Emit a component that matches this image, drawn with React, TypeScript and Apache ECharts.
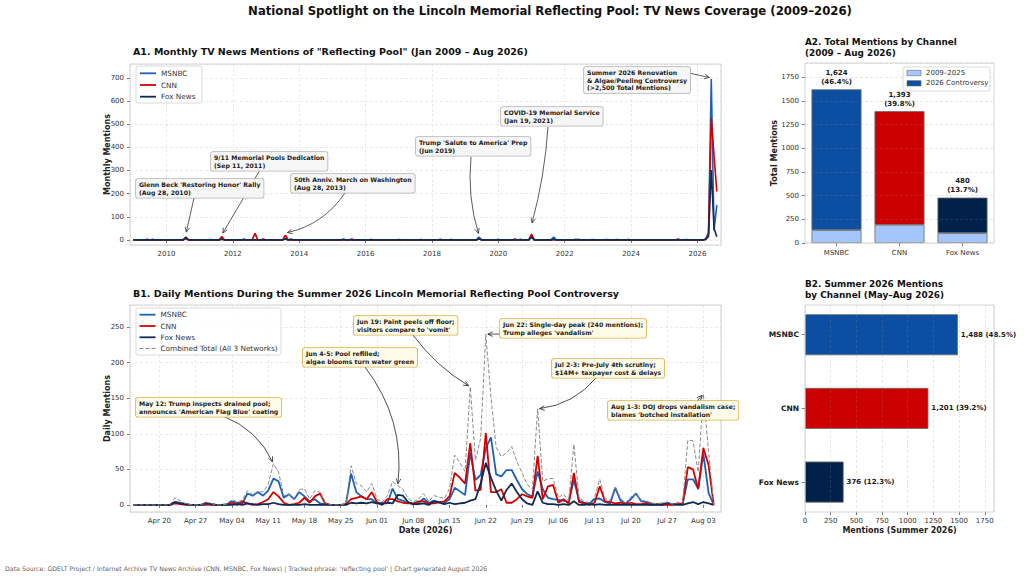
import React, { useEffect, useRef } from "react";
import * as echarts from "echarts";

// ============================ DATA ============================
const channels = ["MSNBC", "CNN", "Fox News"];

// A1 – monthly mentions (Jan 2009 – Aug 2026); months not listed were 0
const monthlyFirst = "2009-01";
const monthlyLast = "2026-08";
const msnbcMonthly: [string, number][] = [
  ["2009-08", 3], ["2010-08", 8], ["2011-05", 2], ["2011-09", 5], ["2012-05", 4],
  ["2013-08", 6], ["2015-05", 2], ["2017-01", 2], ["2019-06", 12], ["2020-01", 3],
  ["2021-01", 15], ["2021-09", 12], ["2022-06", 3], ["2022-11", 2], ["2023-04", 2],
  ["2023-08", 2], ["2025-09", 2], ["2026-04", 5], ["2026-05", 30], ["2026-06", 695],
  ["2026-07", 40], ["2026-08", 151],
];
const cnnMonthly: [string, number][] = [
  ["2009-06", 3], ["2010-08", 5], ["2011-09", 15], ["2012-09", 28], ["2012-12", 4],
  ["2013-08", 20], ["2015-08", 4], ["2016-03", 2], ["2017-09", 2], ["2018-04", 3],
  ["2018-08", 2], ["2019-06", 5], ["2020-07", 4], ["2020-09", 3], ["2021-01", 25],
  ["2022-05", 3], ["2023-12", 2], ["2025-06", 4], ["2026-04", 3], ["2026-05", 25],
  ["2026-06", 526], ["2026-07", 365], ["2026-08", 209],
];
const foxMonthly: [string, number][] = [
  ["2010-08", 12], ["2011-09", 3], ["2013-08", 4], ["2013-10", 4], ["2015-05", 3],
  ["2019-06", 4], ["2021-01", 12], ["2021-09", 4], ["2024-03", 1], ["2026-04", 2],
  ["2026-05", 15], ["2026-06", 302], ["2026-07", 50], ["2026-08", 14],
];

// A2 – total mentions by channel
const mentions2009to2025 = [136, 192, 104];
const mentions2026 = [1488, 1201, 376];

// B1 – daily mentions, from 2026-04-15 to 2026-08-05
const dailyStart = "2026-04-15";
const msnbcDaily = [
  0, 0, 0, 0, 0, 0, 0, 0, 4, 3,
  1, 0, 0, 0, 0, 1, 0, 0, 1, 5,
  3, 2, 16, 13, 18, 13, 20, 37, 33, 10,
  15, 8, 18, 12, 5, 8, 2, 1, 0, 0,
  0, 1, 44, 18, 12, 8, 8, 2, 3, 2,
  23, 8, 6, 3, 1, 2, 9, 3, 6, 4,
  3, 8, 24, 19, 14, 73, 35, 42, 80, 95,
  43, 40, 49, 49, 35, 22, 15, 12, 47, 22,
  10, 8, 7, 6, 4, 35, 6, 3, 2, 8,
  9, 4, 2, 24, 6, 2, 8, 16, 5, 4,
  2, 1, 2, 1, 0, 2, 1, 36, 36, 23,
  72, 17, 0,
];
const cnnDaily = [
  0, 0, 0, 0, 0, 0, 0, 0, 2, 1,
  0, 0, 0, 0, 1, 0, 0, 0, 0, 3,
  0, 5, 2, 0, 1, 4, 8, 18, 12, 3,
  0, 1, 3, 10, 3, 12, 16, 2, 0, 0,
  0, 1, 8, 10, 12, 8, 18, 4, 0, 8,
  8, 5, 3, 2, 2, 5, 5, 2, 2, 4,
  5, 12, 45, 38, 30, 87, 20, 21, 101, 18,
  18, 22, 3, 3, 8, 15, 12, 10, 69, 8,
  26, 28, 3, 8, 2, 45, 4, 2, 0, 3,
  26, 5, 4, 2, 3, 1, 3, 1, 1, 2,
  0, 1, 0, 0, 0, 1, 2, 53, 50, 22,
  80, 56, 0,
];
const foxDaily = [
  0, 0, 0, 0, 0, 0, 0, 0, 4, 2,
  1, 0, 0, 0, 3, 1, 0, 0, 0, 0,
  1, 0, 2, 1, 0, 1, 1, 3, 1, 0,
  0, 0, 0, 1, 0, 0, 0, 0, 0, 0,
  0, 0, 3, 2, 3, 2, 4, 2, 1, 3,
  2, 14, 13, 4, 1, 1, 2, 0, 5, 3,
  1, 3, 1, 2, 3, 6, 8, 30, 59, 38,
  20, 6, 21, 30, 18, 8, 2, 0, 19, 3,
  1, 1, 0, 1, 0, 5, 0, 0, 1, 0,
  1, 0, 0, 0, 0, 0, 0, 0, 0, 0,
  0, 0, 0, 3, 1, 0, 0, 2, 4, 1,
  4, 2, 0,
];

// B2 – summer 2026 mentions by channel
const summerMentions = [1488, 1201, 376];

// Annotations: text, target (month / date) and target value
const a1Notes: [string, string, number][] = [
  ["Glenn Beck 'Restoring Honor' Rally\n(Aug 28, 2010)", "2010-08", 25],
  ["9/11 Memorial Pools Dedication\n(Sep 11, 2011)", "2011-09", 22],
  ["50th Anniv. March on Washington\n(Aug 28, 2013)", "2013-08", 30],
  ["Trump 'Salute to America' Prep\n(Jun 2019)", "2019-06", 20],
  ["COVID-19 Memorial Service\n(Jan 19, 2021)", "2021-01", 65],
  ["Summer 2026 Renovation\n& Algae/Peeling Controversy\n(>2,500 Total Mentions)", "2026-06", 700],
];
const b1Notes: [string, string][] = [
  ["May 12: Trump inspects drained pool;\nannounces 'American Flag Blue' coating", "2026-05-12"],
  ["Jun 4-5: Pool refilled;\nalgae blooms turn water green", "2026-06-05"],
  ["Jun 19: Paint peels off floor;\nvisitors compare to 'vomit'", "2026-06-19"],
  ["Jun 22: Single-day peak (240 mentions);\nTrump alleges 'vandalism'", "2026-06-22"],
  ["Jul 2-3: Pre-July 4th scrutiny;\n$14M+ taxpayer cost & delays", "2026-07-02"],
  ["Aug 1-3: DOJ drops vandalism case;\nblames 'botched installation'", "2026-08-03"],
];

// ============================ LAYOUT / STYLE ============================
const FONT = "'DejaVu Sans', Verdana, sans-serif";
const LINE_COLORS = ["#1a62b5", "#d40000", "#0f2b52"];
const BAR_COLORS = ["#0b4ea2", "#cc0000", "#00214a"];
const LIGHT_BLUE = "#a4c6fc";

const GA1 = { left: 130, top: 64, width: 591, height: 181 };
const GB1 = { left: 130, top: 305, width: 591, height: 207 };
const GA2 = { left: 805, top: 63, width: 189, height: 180 };
const GB2 = { left: 805, top: 305, width: 189, height: 207 };
const GB2BARS = { left: 805, top: 297.9, width: 189, height: 221 };

// annotation box positions (top-left) and arrow tails
const a1Boxes = [
  { box: [136, 179], from: [194, 198], rad: 0 },
  { box: [211, 152], from: [260, 170], rad: 0 },
  { box: [291, 174], from: [345, 193], rad: 0.2 },
  { box: [416, 137], from: [471, 157], rad: -0.1 },
  { box: [501, 107], from: [548, 127], rad: 0.05 },
  { box: [584, 67], from: [689, 73], rad: 0 },
];
const b1Boxes = [
  { box: [136, 398], from: [223, 416], rad: 0.2 },
  { box: [303, 348], from: [365, 367], rad: 0.2 },
  { box: [354, 316], from: [413, 335], rad: -0.1 },
  { box: [500, 319], from: [500, 334], rad: 0 },
  { box: [552, 359], from: [597, 377], rad: 0.2 },
  { box: [608, 401], from: [697, 401], rad: 0 },
];

// ============================ HELPERS ============================
const DAY = 86400000;
const MONTHS = ["Jan", "Feb", "Mar", "Apr", "May", "Jun", "Jul", "Aug", "Sep", "Oct", "Nov", "Dec"];

function monthX(s: string) {
  const [y, m] = s.split("-").map(Number);
  return y + (m - 1) / 12;
}
function monthIdx(s: string) {
  const [y, m] = s.split("-").map(Number);
  return y * 12 + (m - 1);
}
function buildMonthly(spikes: [string, number][]) {
  const first = monthIdx(monthlyFirst);
  const n = monthIdx(monthlyLast) - first + 1;
  const vals = new Array(n).fill(0);
  spikes.forEach(([k, v]) => (vals[monthIdx(k) - first] = v));
  return vals.map((v, i) => [monthX(monthlyFirst) + i / 12, v]);
}

const startMs = Date.parse(dailyStart + "T00:00:00Z");
const mondayOffset = (new Date(startMs).getUTCDay() + 6) % 7; // days since previous Monday
const refMs = startMs - mondayOffset * DAY;
const dayX = (i: number) => mondayOffset + i;
const dateX = (s: string) => Math.round((Date.parse(s + "T00:00:00Z") - refMs) / DAY);
function dayLabel(v: number) {
  const d = new Date(refMs + Math.round(v) * DAY);
  return MONTHS[d.getUTCMonth()] + " " + String(d.getUTCDate()).padStart(2, "0");
}
const combinedDaily = msnbcDaily.map((v, i) => v + cnnDaily[i] + foxDaily[i]);

const plain = (v: number) => String(Math.round(v));
const tickLabel = { fontFamily: FONT, fontSize: 7, color: "#333" };
const axisTick = { show: true, length: 3, lineStyle: { color: "#555", width: 0.8 } };
const splitLine = { show: true, lineStyle: { color: "#dedede", width: 0.6, type: [3, 2] } };
const splitLineOver = { show: true, lineStyle: { color: "rgba(150,150,150,0.35)", width: 0.6, type: [3, 2] } };
const axisName = { fontFamily: FONT, fontSize: 8, fontWeight: "bold", color: "#222" };

function lineSeries(name: string, data: any[], color: string, width: number, idx: number, dashed = false) {
  return {
    type: "line", name, xAxisIndex: idx, yAxisIndex: idx, data,
    showSymbol: false, symbol: "none", silent: true,
    lineStyle: { color, width, type: dashed ? [4, 2] : "solid" },
    itemStyle: { color },
  };
}

function buildOption() {
  const fmtN = (v: number) => v.toLocaleString("en-US");
  const totals = mentions2009to2025.map((v, i) => v + mentions2026[i]);
  const allTotal = totals.reduce((a, b) => a + b, 0);
  const summerTotal = summerMentions.reduce((a, b) => a + b, 0);
  const grid = (g: any) => ({ ...g, containLabel: false, outerBoundsMode: "none" });

  return {
    animation: false,
    backgroundColor: "#ffffff",
    textStyle: { fontFamily: FONT },
    grid: [grid(GA1), grid(GB1), grid(GA2), grid(GB2BARS), grid(GB2)],
    xAxis: [
      {
        gridIndex: 0, type: "value", min: 2008.9, max: 2026.71, splitNumber: 9,
        minInterval: 2, maxInterval: 2,
        axisLine: { show: false }, axisTick, splitLine,
        axisLabel: { ...tickLabel, margin: 5, showMinLabel: false, showMaxLabel: false, formatter: plain },
      },
      {
        gridIndex: 1, type: "value", min: dayX(0) - 0.68, max: dayX(msnbcDaily.length - 1) + 1.4,
        splitNumber: 16, minInterval: 7, maxInterval: 7,
        axisLine: { show: false }, axisTick, splitLine,
        axisLabel: { ...tickLabel, margin: 5, showMinLabel: false, showMaxLabel: false, formatter: dayLabel },
        name: "Date (2026)", nameLocation: "middle", nameGap: 14, nameMoveOverlap: false, nameTextStyle: axisName,
      },
      {
        gridIndex: 2, type: "category", data: channels,
        axisLine: { show: false }, axisTick: { ...axisTick, alignWithLabel: true },
        splitLine: { show: false }, axisLabel: { ...tickLabel, margin: 6 },
      },
      { gridIndex: 3, type: "value", min: 0, max: 1840, show: false },
      {
        gridIndex: 4, type: "value", min: 0, max: 1840, interval: 250, z: 3,
        axisLine: { show: false }, axisTick, splitLine: splitLineOver,
        axisLabel: { ...tickLabel, margin: 5, showMaxLabel: false, formatter: plain },
        name: "Mentions (Summer 2026)", nameLocation: "middle", nameGap: 14, nameMoveOverlap: false, nameTextStyle: axisName,
      },
    ],
    yAxis: [
      {
        gridIndex: 0, type: "value", min: -22, max: 760, splitNumber: 8,
        minInterval: 100, maxInterval: 100,
        axisLine: { show: false }, axisTick, splitLine,
        axisLabel: { ...tickLabel, margin: 6, showMinLabel: false, showMaxLabel: false, formatter: plain },
        name: "Monthly Mentions", nameLocation: "middle", nameGap: 19, nameMoveOverlap: false, nameTextStyle: axisName,
      },
      {
        gridIndex: 1, type: "value", min: -10, max: 281, splitNumber: 6,
        minInterval: 50, maxInterval: 50,
        axisLine: { show: false }, axisTick, splitLine,
        axisLabel: { ...tickLabel, margin: 6, showMinLabel: false, showMaxLabel: false, formatter: plain },
        name: "Daily Mentions", nameLocation: "middle", nameGap: 19, nameMoveOverlap: false, nameTextStyle: axisName,
      },
      {
        gridIndex: 2, type: "value", min: 0, max: 1902, interval: 250, z: 3,
        axisLine: { show: false }, axisTick, splitLine: splitLineOver,
        axisLabel: { ...tickLabel, margin: 6, showMaxLabel: false, formatter: plain },
        name: "Total Mentions", nameLocation: "middle", nameGap: 27, nameMoveOverlap: false, nameTextStyle: axisName,
      },
      {
        gridIndex: 3, type: "category", data: channels, inverse: true,
        axisLine: { show: false }, axisTick: { ...axisTick, alignWithLabel: true },
        splitLine: { show: false },
        axisLabel: { fontFamily: FONT, fontSize: 7.5, fontWeight: "bold", color: "#1a1a1a", margin: 6 },
      },
      { gridIndex: 4, type: "value", show: false },
    ],
    series: [
      lineSeries("MSNBC", buildMonthly(msnbcMonthly), LINE_COLORS[0], 1.6, 0),
      lineSeries("CNN", buildMonthly(cnnMonthly), LINE_COLORS[1], 1.6, 0),
      lineSeries("Fox News", buildMonthly(foxMonthly), LINE_COLORS[2], 1.6, 0),

      lineSeries("MSNBC", msnbcDaily.map((v, i) => [dayX(i), v]), LINE_COLORS[0], 1.8, 1),
      lineSeries("CNN", cnnDaily.map((v, i) => [dayX(i), v]), LINE_COLORS[1], 1.8, 1),
      lineSeries("Fox News", foxDaily.map((v, i) => [dayX(i), v]), LINE_COLORS[2], 1.8, 1),
      lineSeries("Combined Total (All 3 Networks)", combinedDaily.map((v, i) => [dayX(i), v]), "#8a8a8a", 1, 1, true),

      {
        type: "bar", name: "2009–2025", xAxisIndex: 2, yAxisIndex: 2, stack: "a2", barWidth: 50, silent: true,
        data: mentions2009to2025,
        itemStyle: { color: LIGHT_BLUE, borderColor: "#6b6b6b", borderWidth: 0.8 },
      },
      {
        type: "bar", name: "2026 Controversy", xAxisIndex: 2, yAxisIndex: 2, stack: "a2", barWidth: 50, silent: true,
        data: mentions2026.map((v, i) => ({ value: v, itemStyle: { color: BAR_COLORS[i] } })),
        itemStyle: { borderColor: "#6b6b6b", borderWidth: 0.8 },
        label: {
          show: true, position: "top", distance: 3,
          fontFamily: FONT, fontSize: 7, fontWeight: "bold", color: "#1a1a1a", lineHeight: 9,
          formatter: (p: any) =>
            fmtN(totals[p.dataIndex]) + "\n(" + ((totals[p.dataIndex] / allTotal) * 100).toFixed(1) + "%)",
        },
      },
      {
        type: "bar", name: "Summer 2026", xAxisIndex: 3, yAxisIndex: 3, barWidth: 41, silent: true,
        data: summerMentions.map((v, i) => ({ value: v, itemStyle: { color: BAR_COLORS[i] } })),
        itemStyle: { borderColor: "#6b6b6b", borderWidth: 0.8 },
        label: {
          show: true, position: "right", distance: 3,
          fontFamily: FONT, fontSize: 7, fontWeight: "bold", color: "#1a1a1a",
          formatter: (p: any) =>
            fmtN(p.value) + " (" + ((p.value / summerTotal) * 100).toFixed(1) + "%)",
        },
      },
    ],
  };
}

function arrowEls(x0: number, y0: number, tx: number, ty: number, rad: number, color: string) {
  const dx = tx - x0, dy = ty - y0;
  const cx = (x0 + tx) / 2 + rad * dy, cy = (y0 + ty) / 2 - rad * dx;
  let ux = tx - cx, uy = ty - cy;
  const L = Math.hypot(ux, uy) || 1;
  ux /= L; uy /= L;
  const ex = tx - 2 * ux, ey = ty - 2 * uy;
  const hl = 5, hw = 2.3;
  const bx = ex - hl * ux, by = ey - hl * uy;
  const nx = -uy, ny = ux;
  return [
    { type: "bezierCurve", z: 25, silent: true,
      shape: { x1: x0, y1: y0, x2: ex, y2: ey, cpx1: cx, cpy1: cy },
      style: { stroke: color, lineWidth: 0.8, fill: "none" } },
    { type: "polyline", z: 25, silent: true,
      shape: { points: [[bx + hw * nx, by + hw * ny], [ex, ey], [bx - hw * nx, by - hw * ny]] },
      style: { stroke: color, lineWidth: 0.8, fill: "none" } },
  ];
}

function noteBox(text: string, x: number, y: number, bg: string, border: string) {
  return {
    type: "text", x, y, z: 30, silent: true,
    style: {
      text, font: "bold 6.2px " + FONT, fill: "#1a1a1a", lineHeight: 7.4,
      backgroundColor: bg, borderColor: border, borderWidth: 0.8, borderRadius: 2,
      padding: [2, 3, 2, 3], align: "left", verticalAlign: "top",
    },
  };
}

function txt(text: string, x: number, y: number, font: string, fill = "#1a1a1a", align = "left", va = "middle", lineHeight?: number) {
  return { type: "text", x, y, z: 30, silent: true,
    style: { text, font, fill, align, verticalAlign: va, lineHeight } };
}

function frame(g: any) {
  return { type: "rect", z: 4, silent: true,
    shape: { x: g.left, y: g.top, width: g.width, height: g.height },
    style: { fill: "none", stroke: "#c8c8c8", lineWidth: 0.8 } };
}

function legendBox(x: number, y: number, w: number, h: number) {
  return { type: "rect", z: 28, silent: true, shape: { x, y, width: w, height: h, r: 2 },
    style: { fill: "rgba(255,255,255,0.85)", stroke: "#d0d0d0", lineWidth: 0.8 } };
}
function legendLine(x: number, y: number, color: string, width: number, label: string, dashed = false) {
  return [
    { type: "line", z: 29, silent: true, shape: { x1: x, y1: y, x2: x + 16, y2: y },
      style: { stroke: color, lineWidth: width, lineDash: dashed ? [4, 2] : null } },
    txt(label, x + 21, y, "7.3px " + FONT, "#333"),
  ];
}

function buildGraphics(chart: any) {
  const els: any[] = [];
  // titles
  els.push(txt("National Spotlight on the Lincoln Memorial Reflecting Pool: TV News Coverage (2009–2026)",
    550, 11, "bold 11.7px " + FONT, "#111", "center"));
  els.push(txt('A1. Monthly TV News Mentions of "Reflecting Pool" (Jan 2009 – Aug 2026)',
    133, 51, "bold 9.5px " + FONT, "#111"));
  els.push(txt("A2. Total Mentions by Channel\n(2009 – Aug 2026)", 805, 36.5, "bold 8.9px " + FONT, "#111", "left", "top", 11));
  els.push(txt("B1. Daily Mentions During the Summer 2026 Lincoln Memorial Reflecting Pool Controversy",
    133, 293, "bold 9.5px " + FONT, "#111"));
  els.push(txt("B2. Summer 2026 Mentions\nby Channel (May–Aug 2026)", 805, 278.5, "bold 8.9px " + FONT, "#111", "left", "top", 11));
  els.push(txt("Data Source: GDELT Project / Internet Archive TV News Archive (CNN, MSNBC, Fox News) | Tracked phrase: 'reflecting pool' | Chart generated August 2026",
    5, 568, "6.25px " + FONT, "#666"));

  // frames
  [GA1, GB1, GA2, GB2].forEach((g) => els.push(frame(g)));

  // legends
  els.push(legendBox(136, 66, 66, 37));
  els.push(...legendLine(140, 73.3, LINE_COLORS[0], 1.8, channels[0]));
  els.push(...legendLine(140, 85, LINE_COLORS[1], 1.8, channels[1]));
  els.push(...legendLine(140, 96.7, LINE_COLORS[2], 1.8, channels[2]));

  els.push(legendBox(136, 308, 145, 47));
  els.push(...legendLine(139.5, 314.7, LINE_COLORS[0], 1.8, channels[0]));
  els.push(...legendLine(139.5, 326, LINE_COLORS[1], 1.8, channels[1]));
  els.push(...legendLine(139.5, 337.3, LINE_COLORS[2], 1.8, channels[2]));
  els.push(...legendLine(139.5, 348.5, "#8a8a8a", 1, "Combined Total (All 3 Networks)", true));

  els.push(legendBox(903, 67, 87, 24));
  els.push({ type: "rect", z: 29, silent: true, shape: { x: 907, y: 70.3, width: 14, height: 5.4 },
    style: { fill: LIGHT_BLUE, stroke: "#6b6b6b", lineWidth: 0.6 } });
  els.push(txt("2009–2025", 926, 73, "7px " + FONT, "#333"));
  els.push({ type: "rect", z: 29, silent: true, shape: { x: 907, y: 80.6, width: 14, height: 5.4 },
    style: { fill: BAR_COLORS[0], stroke: "#6b6b6b", lineWidth: 0.6 } });
  els.push(txt("2026 Controversy", 926, 83.3, "7px " + FONT, "#333"));

  // A1 annotations
  a1Notes.forEach(([text, month, value], i) => {
    const lay = a1Boxes[i];
    const p = chart.convertToPixel({ gridIndex: 0 }, [monthX(month), value]);
    els.push(...arrowEls(lay.from[0], lay.from[1], p[0], p[1], lay.rad, "#333"));
    els.push(noteBox(text, lay.box[0], lay.box[1], "rgba(245,245,245,0.95)", "#b5b5b5"));
  });
  // B1 annotations
  b1Notes.forEach(([text, date], i) => {
    const lay = b1Boxes[i];
    const x = dateX(date);
    const value = combinedDaily[x - mondayOffset];
    const p = chart.convertToPixel({ gridIndex: 1 }, [x, value]);
    els.push(...arrowEls(lay.from[0], lay.from[1], p[0], p[1], lay.rad, "#222"));
    els.push(noteBox(text, lay.box[0], lay.box[1], "rgba(255,251,232,0.97)", "#d9b44a"));
  });
  return els;
}

export default function App() {
  const ref = useRef<HTMLDivElement>(null);
  useEffect(() => {
    const chart = echarts.init(ref.current!, null, { renderer: "svg" });
    chart.setOption(buildOption() as any);
    chart.setOption({ graphic: buildGraphics(chart) } as any);
    return () => chart.dispose();
  }, []);
  return (
    <div
      ref={ref}
      style={{ position: "fixed", left: 0, top: 0, width: 1024, height: 577, background: "#fff" }}
    />
  );
}
